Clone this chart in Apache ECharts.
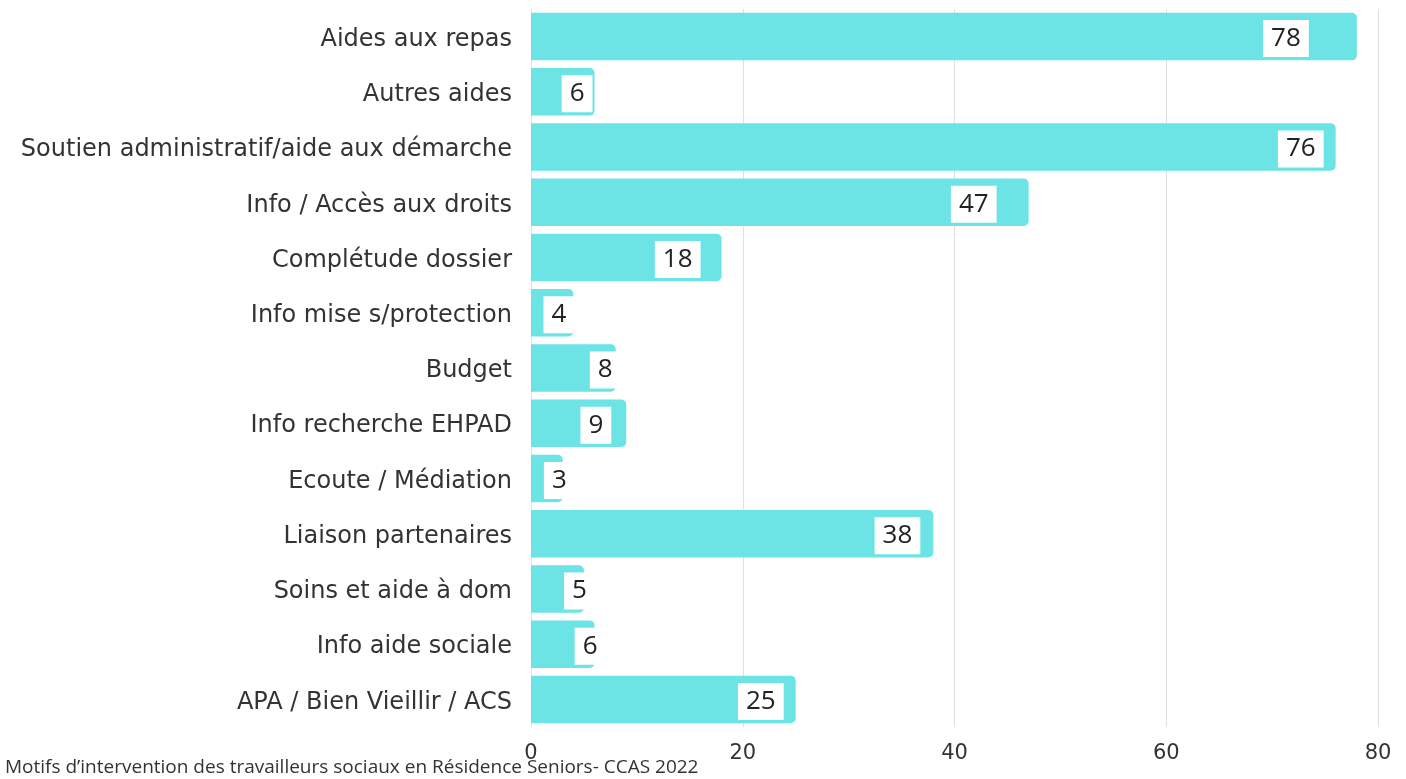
<!DOCTYPE html>
<html lang="fr">
<head>
<meta charset="utf-8">
<title>Motifs d'intervention</title>
<script src="https://cdn.jsdelivr.net/npm/echarts@6/dist/echarts.min.js"></script>
<style>
  html, body { margin: 0; padding: 0; background: #fff; }
  #chart { width: 1406px; height: 779px; }
</style>
</head>
<body>
<div id="chart"></div>
<script>
// Motifs d'intervention, listed top to bottom
const categories = [
  'Aides aux repas',
  'Autres aides',
  'Soutien administratif/aide aux démarche',
  'Info / Accès aux droits',
  'Complétude dossier',
  'Info mise s/protection',
  'Budget',
  'Info recherche EHPAD',
  'Ecoute / Médiation',
  'Liaison partenaires',
  'Soins et aide à dom',
  'Info aide sociale',
  'APA / Bien Vieillir / ACS'
];
const counts = [78, 6, 76, 47, 18, 4, 8, 9, 3, 38, 5, 6, 25];
const tickValues = [0, 20, 40, 60, 80];
const caption = 'Motifs d\u2019intervention des travailleurs sociaux en Résidence Seniors- CCAS 2022';

// How far (px) each value box sits back from the end of its bar
const labelNudge = [48, 2, 12, 32, 21, -1, -5, 15, -12, 13, -11, -11, 12];

const BAR_COLOR = '#6ce4e6';
const TEXT_COLOR = '#333333';

const chart = echarts.init(document.getElementById('chart'), null, { renderer: 'canvas' });

chart.setOption({
  animation: false,
  backgroundColor: '#ffffff',
  grid: { left: 531, right: 28, top: 9, bottom: 52, containLabel: false },
  xAxis: {
    type: 'value',
    min: tickValues[0],
    max: tickValues[tickValues.length - 1],
    interval: tickValues[1] - tickValues[0],
    axisLine: { show: false },
    axisTick: { show: false },
    axisLabel: {
      color: TEXT_COLOR,
      fontFamily: 'DejaVu Sans',
      fontSize: 21,
      margin: 16
    },
    splitLine: { show: true, lineStyle: { color: '#e0e0e0', width: 1 } }
  },
  yAxis: {
    type: 'category',
    inverse: true,
    data: categories,
    axisLine: { show: false },
    axisTick: { show: false },
    axisLabel: {
      color: TEXT_COLOR,
      fontFamily: 'DejaVu Sans',
      fontSize: 24,
      margin: 19,
      verticalAlign: 'top',
      lineHeight: 6
    }
  },
  series: [{
    type: 'bar',
    barCategoryGap: '14%',
    itemStyle: { color: BAR_COLOR, borderRadius: [0, 5, 5, 0] },
    label: {
      show: true,
      position: 'insideRight',
      distance: 0,
      color: '#222',
      fontFamily: 'Open Sans',
      fontSize: 26,
      lineHeight: 29,
      backgroundColor: '#ffffff',
      padding: [4, 8]
    },
    data: counts.map((v, i) => ({
      value: v,
      label: { offset: [-labelNudge[i], 2] }
    }))
  }],
  graphic: [{
    type: 'text',
    left: 5,
    top: 758,
    style: {
      text: caption,
      fill: '#333',
      font: '19px "Open Sans"'
    }
  }]
});
</script>
</body>
</html>
